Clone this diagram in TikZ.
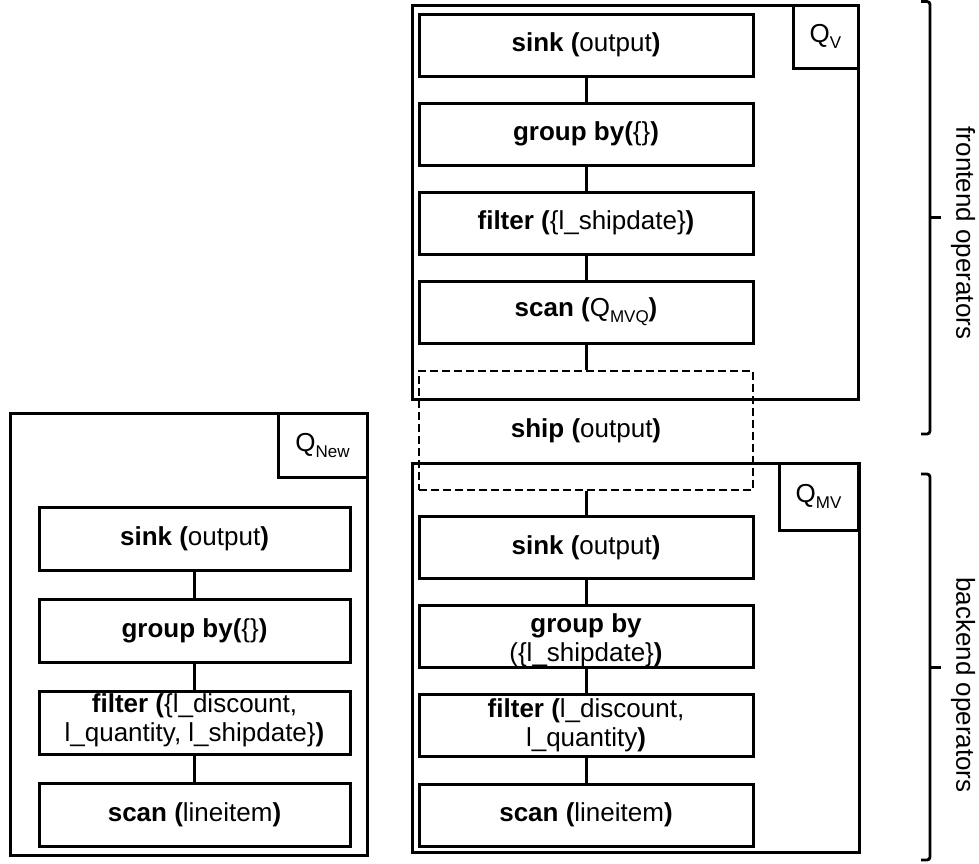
\documentclass[tikz,border=0pt]{standalone}
\usepackage{fontspec}
\setmainfont{Liberation Sans}
\newcommand{\qsub}[1]{\raisebox{-6pt}{\fontsize{17}{17}\selectfont #1}}
\begin{document}
\begin{tikzpicture}[x=1pt,y=-1pt,
  txt/.style={font=\fontsize{26}{29}\selectfont},
  opbox/.style={txt, draw, line width=3pt, minimum width=334pt, minimum height=62pt, inner sep=0pt, align=center},
  lopbox/.style={opbox, minimum width=311pt, minimum height=63pt},
  shipbox/.style={txt, draw, line width=2.8pt, dash pattern=on 8pt off 4pt, minimum width=334pt, minimum height=119pt, inner sep=0pt, align=center},
  frame/.style={draw, line width=3pt},
  qlabel/.style={txt, draw, line width=3pt, inner sep=0pt},
  link/.style={line width=3pt},
  brace/.style={line width=2.8pt, rounded corners=3pt},
  side/.style={txt, rotate=-90},
  boxtext/.style={txt, align=center, inner sep=0pt}]
\useasboundingbox (0,0) rectangle (979,863);

% frames
\draw[frame] (412,5) rectangle (858,399);
\draw[frame] (412,463) rectangle (859,852);
\draw[frame] (10,413) rectangle (367,855);

% frame labels
\node[qlabel, minimum width=65pt, minimum height=63pt] (qv) at (825.5,36.5) {Q\qsub{V}};
\node[qlabel, minimum width=79pt, minimum height=67pt] (qmv) at (818.5,496.5) {Q\qsub{MV}};
\node[qlabel, minimum width=89pt, minimum height=64pt] (qnew) at (322.5,445) {Q\qsub{New}};

% Q_V chain
\node[opbox] (vsink) at (586,45) {\textbf{sink (}output\textbf{)}};
\node[opbox] (vgroup) at (586,134) {\textbf{group by(}\{\}\textbf{)}};
\node[opbox] (vfilter) at (586,223) {\textbf{filter (}\{l\_shipdate\}\textbf{)}};
\node[opbox] (vscan) at (586,312) {\textbf{scan (}Q\qsub{MVQ}\textbf{)}};

% ship
\node[shipbox] (ship) at (586,430.5) {\textbf{ship (}output\textbf{)}};

% Q_MV chain
\node[opbox] (msink) at (586,547.5) {\textbf{sink (}output\textbf{)}};
\node[opbox] (mgroup) at (586,636.5) {};
\node[boxtext] (mgrouptext) at (586,640.5) {\textbf{group by}\\(\{l\_shipdate\}\textbf{)}};
\node[opbox] (mfilter) at (586,725.5) {\textbf{filter (}l\_discount,\\l\_quantity\textbf{)}};
\node[opbox] (mscan) at (586,815) {\textbf{scan (}lineitem\textbf{)}};

% Q_New chain
\node[lopbox] (nsink) at (194.5,539) {\textbf{sink (}output\textbf{)}};
\node[lopbox] (ngroup) at (194.5,630.5) {\textbf{group by(}\{\}\textbf{)}};
\node[lopbox] (nfilter) at (194.5,722.5) {};
\node[boxtext] (nfiltertext) at (194.5,720.5) {\textbf{filter (}\{l\_discount,\\l\_quantity, l\_shipdate\}\textbf{)}};
\node[lopbox] (nscan) at (194.5,815) {\textbf{scan (}lineitem\textbf{)}};

% connectors
\draw[link] (vsink) -- (vgroup);
\draw[link] (vgroup) -- (vfilter);
\draw[link] (vfilter) -- (vscan);
\draw[link] (vscan) -- (ship);
\draw[link] (ship) -- (msink);
\draw[link] (msink) -- (mgroup);
\draw[link] (mgroup) -- (mfilter);
\draw[link] (mfilter) -- (mscan);
\draw[link] (nsink) -- (ngroup);
\draw[link] (ngroup) -- (nfilter);
\draw[link] (nfilter) -- (nscan);

% braces
\coordinate (ftop) at (921,1.5);
\coordinate (fbot) at (921,434);
\coordinate (fmid) at (941,217);
\draw[brace] (ftop) -- (930,1.5) -- (930,434) -- (fbot);
\draw[link] (930,217) -- (fmid);
\node[side] (ftext) at (963,233) {frontend operators};

\coordinate (btop) at (921,474);
\coordinate (bbot) at (921,860);
\coordinate (bmid) at (941,667);
\draw[brace] (btop) -- (930,474) -- (930,860) -- (bbot);
\draw[link] (930,667) -- (bmid);
\node[side] (btext) at (963,685) {backend operators};
\end{tikzpicture}
\end{document}
